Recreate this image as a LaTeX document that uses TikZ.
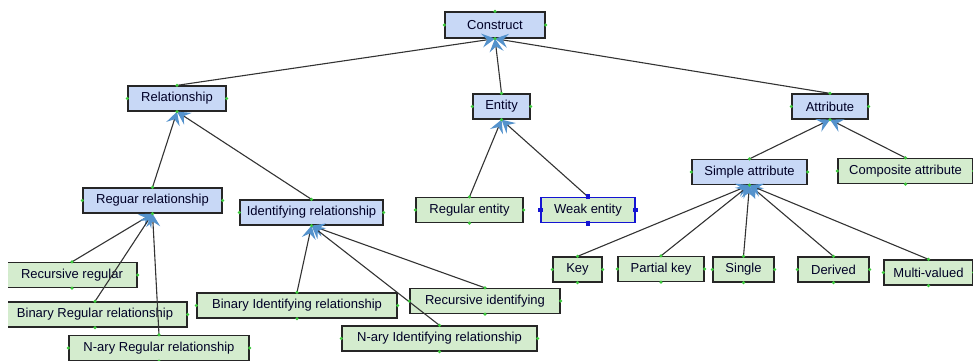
\documentclass[tikz,border=0pt]{standalone}
\usepackage{fontspec}
\setmainfont{Liberation Sans}
\usetikzlibrary{arrows.meta, positioning}

\definecolor{absblue}{RGB}{200,216,246}
\definecolor{leafgreen}{RGB}{212,236,206}
\definecolor{tipblue}{RGB}{84,146,204}
\definecolor{portgreen}{RGB}{60,200,60}
\definecolor{handleblue}{RGB}{20,20,210}

\tikzset{
  box/.style={draw=black!85, line width=1.3pt, minimum height=25pt,
    inner sep=0pt, text=black!85!blue,
    font=\fontsize{13}{15}\selectfont},
  abstr/.style={box, fill=absblue},
  leaf/.style={box, fill=leafgreen},
  gen/.style={draw=black!80, line width=1.1pt,
    -{Stealth[length=13pt, width=14pt, inset=5pt, color=tipblue]}}
}

\begin{document}
\begin{tikzpicture}[x=1pt, y=-1pt]

\useasboundingbox (0,0) rectangle (973,360);
\clip (8,0) rectangle (973,360);

\node[abstr, minimum width=100pt, minimum height=26pt] (construct) at (495,25) {Construct};

\node[abstr, minimum width=98pt] (relationship) at (177,98.5) {Relationship};
\node[abstr, minimum width=57pt] (entity) at (501.5,106.5) {Entity};
\node[abstr, minimum width=76pt] (attribute) at (830,106.5) {Attribute};

\node[abstr, minimum width=139pt] (regrel) at (152.5,200.5) {Reguar relationship};
\node[abstr, minimum width=143pt] (identrel) at (311.5,212.5) {Identifying relationship};
\node[leaf, minimum width=107pt] (regent) at (469.5,210) {Regular entity};
\node[leaf, minimum width=94pt, draw=handleblue] (weakent) at (588,210) {Weak entity};
\node[abstr, minimum width=115pt] (simpleattr) at (749.5,172) {Simple attribute};
\node[leaf, minimum width=135pt] (compattr) at (905.5,171) {Composite attribute};

\node[leaf, minimum width=49pt] (key) at (577.5,269.5) {Key};
\node[leaf, minimum width=86pt] (partkey) at (661,269) {Partial key};
\node[leaf, minimum width=61pt] (single) at (743.5,269.5) {Single};
\node[leaf, minimum width=71pt] (derived) at (833.5,269.5) {Derived};
\node[leaf, minimum width=89pt] (multival) at (928.5,272.5) {Multi-valued};

\node[leaf, minimum width=130pt] (recreg) at (72,275) {Recursive regular};
\node[leaf, minimum width=184pt] (binreg) at (95,314.5) {Binary Regular relationship};
\node[leaf, minimum width=180pt] (naryreg) at (159,348) {N-ary Regular relationship};

\node[leaf, minimum width=200pt] (binident) at (297,305.5) {Binary Identifying relationship};
\node[leaf, minimum width=150pt] (recident) at (485,301) {Recursive identifying};
\node[leaf, minimum width=195pt] (naryident) at (439.5,338.5) {N-ary Identifying relationship};

% generalisation links
\foreach \child/\parent in {relationship/construct, entity/construct, attribute/construct,
    regrel/relationship, identrel/relationship, regent/entity, weakent/entity,
    simpleattr/attribute, compattr/attribute,
    recreg/regrel, binreg/regrel, naryreg/regrel,
    binident/identrel, recident/identrel, naryident/identrel,
    key/simpleattr, partkey/simpleattr, single/simpleattr, derived/simpleattr, multival/simpleattr}
  \draw[gen] (\child.north) -- (\parent.south);

% connection points
\foreach \n in {construct, relationship, entity, attribute, regrel, identrel, regent,
    simpleattr, compattr, key, partkey, single, derived, multival,
    recreg, binreg, naryreg, binident, recident, naryident}
  \foreach \a in {north, south, east, west}
    \fill[portgreen] (\n.\a) circle (1.8pt);

\foreach \a in {north, south, east, west}
  \fill[handleblue] ([shift={(-2.4pt,-2.4pt)}]weakent.\a) rectangle ++(4.8pt,4.8pt);

\end{tikzpicture}
\end{document}
